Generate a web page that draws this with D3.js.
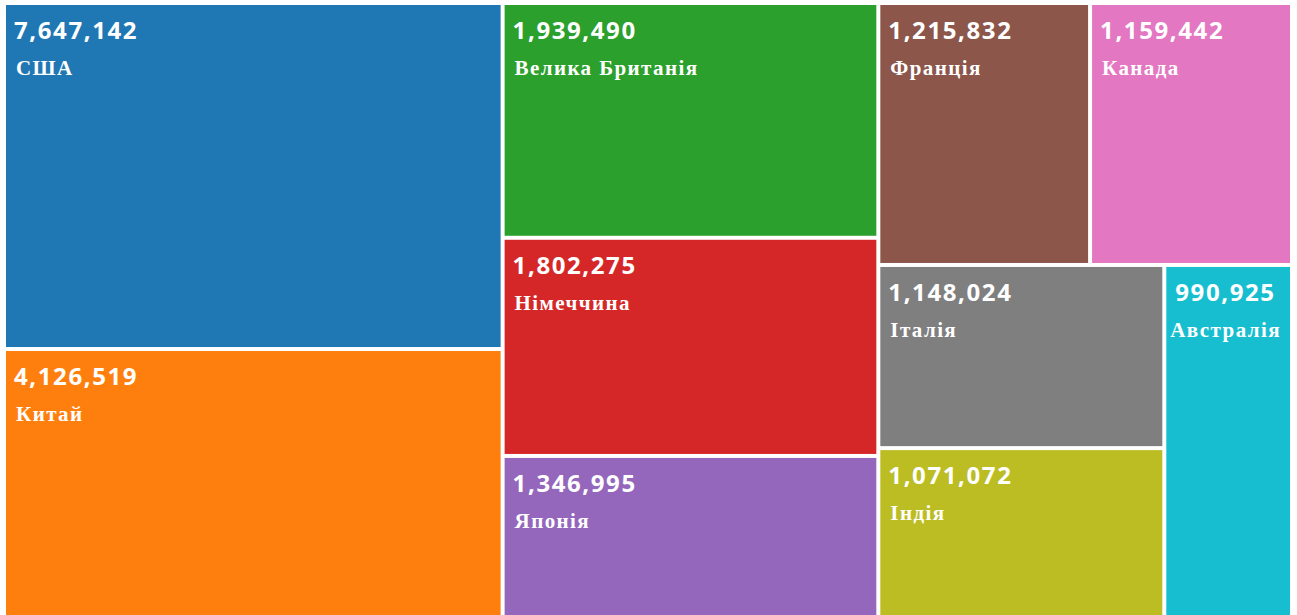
<!DOCTYPE html>
<html>
<head>
<meta charset="utf-8">
<script src="https://cdn.jsdelivr.net/npm/d3@7"></script>
<style>
  html, body { margin: 0; padding: 0; background: #ffffff; overflow: hidden; }
  svg { display: block; }
</style>
</head>
<body>
<svg id="chart" width="1297" height="615"></svg>
<script>
// ---- data ----
const countries = ["США", "Китай", "Велика Британія", "Німеччина", "Японія",
                   "Франція", "Канада", "Італія", "Індія", "Австралія"];
const values = [7647142, 4126519, 1939490, 1802275, 1346995,
                1215832, 1159442, 1148024, 1071072, 990925];
const colors = ["#1f77b4", "#ff7f0e", "#2ca02c", "#d62728", "#9467bd",
                "#8c564b", "#e377c2", "#7f7f7f", "#bcbd22", "#17becf"];

// grouping of the cells (indices into the arrays above)
const groups = {
  name: "root", layout: "columns", children: [
    { name: "g1", layout: "rowsFixed", children: [0, 1] },
    { name: "g2", layout: "slice", children: [2, 3, 4] },
    { name: "g3", layout: "slice", children: [
      { name: "g3a", layout: "dice", children: [5, 6] },
      { name: "g3b", layout: "dice", children: [
        { name: "g3b1", layout: "slice", children: [7, 8] },
        9
      ]}
    ]}
  ]
};

// ---- layout parameters (not data) ----
const columnShares = [0.3874, 0.2919, 0.3214];
const firstColumnTopShare = 0.5617;

function build(n) {
  if (typeof n === "number") return { name: countries[n], value: values[n], idx: n };
  return { name: n.name, layout: n.layout, children: n.children.map(build) };
}

const root = d3.hierarchy(build(groups))
  .sum(d => d.children ? 0 : d.value);

function fixedTile(parent, x0, y0, x1, y1, shares, horizontal) {
  const total = d3.sum(shares);
  let acc = 0;
  parent.children.forEach((c, i) => {
    const a = acc / total, b = (acc + shares[i]) / total;
    acc += shares[i];
    if (horizontal) { c.x0 = x0 + (x1 - x0) * a; c.x1 = x0 + (x1 - x0) * b; c.y0 = y0; c.y1 = y1; }
    else { c.y0 = y0 + (y1 - y0) * a; c.y1 = y0 + (y1 - y0) * b; c.x0 = x0; c.x1 = x1; }
  });
}

function tile(parent, x0, y0, x1, y1) {
  const L = parent.data.layout;
  if (L === "columns") fixedTile(parent, x0, y0, x1, y1, columnShares, true);
  else if (L === "rowsFixed") fixedTile(parent, x0, y0, x1, y1, [firstColumnTopShare, 1 - firstColumnTopShare], false);
  else if (L === "dice") d3.treemapDice(parent, x0, y0, x1, y1);
  else d3.treemapSlice(parent, x0, y0, x1, y1);
}

const W = 1284, H = 612, offX = 6, offY = 5;
d3.treemap().size([W, H]).paddingInner(4).tile(tile).round(false)(root);

const svg = d3.select("#chart");
const g = svg.append("g").attr("transform", `translate(${offX},${offY})`);
const fmt = d3.format(",");

const cells = g.selectAll("g.cell")
  .data(root.leaves())
  .join("g")
  .attr("class", "cell")
  .attr("transform", d => `translate(${d.x0},${d.y0})`);

cells.append("rect")
  .attr("width", d => d.x1 - d.x0)
  .attr("height", d => d.y1 - d.y0)
  .attr("fill", d => colors[d.data.idx]);

cells.append("text")
  .attr("x", d => d.data.idx === 9 ? 9 : 8)
  .attr("y", 34)
  .attr("fill", "#ffffff")
  .style("font-family", "'Open Sans', sans-serif")
  .style("font-weight", "700")
  .style("font-size", "24px")
  .style("letter-spacing", "1.6px")
  .text(d => fmt(d.data.value));

cells.append("text")
  .attr("x", d => d.data.idx === 9 ? 4 : 10)
  .attr("y", 70)
  .attr("fill", "#ffffff")
  .style("font-family", "'Liberation Serif', serif")
  .style("font-weight", "700")
  .style("font-size", "21px")
  .style("letter-spacing", "1.4px")
  .text(d => d.data.name);
</script>
</body>
</html>
